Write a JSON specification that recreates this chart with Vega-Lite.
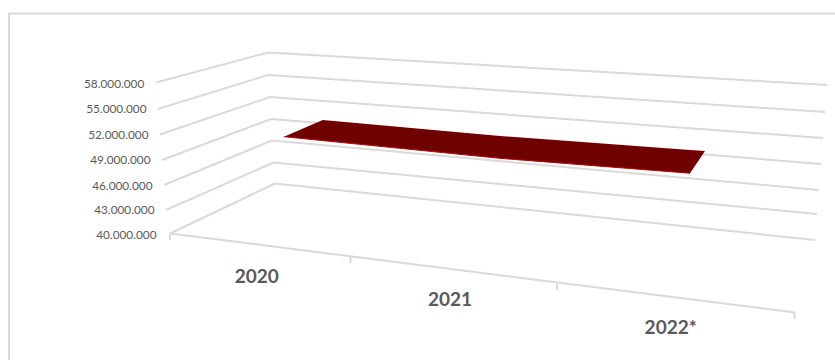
{
  "$schema": "https://vega.github.io/schema/vega-lite/v6.json",
  "width": 835,
  "height": 360,
  "padding": 0,
  "autosize": {"type": "none"},
  "background": "white",
  "config": {"view": {"stroke": null}},
  "datasets": {
    "frame": [
      {"part": "frame", "seq": 0, "pos": -0.805, "level": 24.92},
      {"part": "frame", "seq": 1, "pos": -0.805, "level": 66.22},
      {"part": "frame", "seq": 2, "pos": 3.325, "level": 66.22}
    ],
    "grid": [
      {"part": "58.000.000", "seq": 0, "pos": -0.07, "level": 58.0},
      {"part": "58.000.000", "seq": 1, "pos": 0.49, "level": 61.57},
      {"part": "58.000.000", "seq": 2, "pos": 3.285, "level": 57.7},
      {"part": "55.000.000", "seq": 0, "pos": -0.06, "level": 54.84},
      {"part": "55.000.000", "seq": 1, "pos": 0.49, "level": 58.89},
      {"part": "55.000.000", "seq": 2, "pos": 3.275, "level": 54.48},
      {"part": "52.000.000", "seq": 0, "pos": -0.05, "level": 51.8},
      {"part": "52.000.000", "seq": 1, "pos": 0.5, "level": 56.27},
      {"part": "52.000.000", "seq": 2, "pos": 3.265, "level": 51.38},
      {"part": "49.000.000", "seq": 0, "pos": -0.04, "level": 48.76},
      {"part": "49.000.000", "seq": 1, "pos": 0.505, "level": 53.65},
      {"part": "49.000.000", "seq": 2, "pos": 3.255, "level": 48.28},
      {"part": "46.000.000", "seq": 0, "pos": -0.03, "level": 45.78},
      {"part": "46.000.000", "seq": 1, "pos": 0.51, "level": 51.08},
      {"part": "46.000.000", "seq": 2, "pos": 3.245, "level": 45.18},
      {"part": "43.000.000", "seq": 0, "pos": -0.02, "level": 42.8},
      {"part": "43.000.000", "seq": 1, "pos": 0.5175, "level": 48.46},
      {"part": "43.000.000", "seq": 2, "pos": 3.235, "level": 42.32},
      {"part": "40.000.000", "seq": 0, "pos": 0, "level": 40},
      {"part": "40.000.000", "seq": 1, "pos": 0.525, "level": 45.96},
      {"part": "40.000.000", "seq": 2, "pos": 3.225, "level": 39.23},
      {"part": "floor", "seq": 0, "pos": 0, "level": 40},
      {"part": "floor", "seq": 1, "pos": 3.125, "level": 30.58},
      {"part": "tick0", "seq": 0, "pos": 0, "level": 40},
      {"part": "tick0", "seq": 1, "pos": 0, "level": 39.23},
      {"part": "tick1", "seq": 0, "pos": 0.9025, "level": 37.2},
      {"part": "tick1", "seq": 1, "pos": 0.9025, "level": 36.48},
      {"part": "tick2", "seq": 0, "pos": 1.935, "level": 34.04},
      {"part": "tick2", "seq": 1, "pos": 1.935, "level": 33.33},
      {"part": "tick3", "seq": 0, "pos": 3.1225, "level": 30.58},
      {"part": "tick3", "seq": 1, "pos": 3.1225, "level": 29.81}
    ],
    "ribbon": [
      {"pos": 0.57, "top": 51.54, "bottom": 51.54},
      {"pos": 0.7635, "top": 53.53, "bottom": 51.07},
      {"pos": 1.65, "top": 51.62, "bottom": 48.96},
      {"pos": 2.6, "top": 49.95, "bottom": 47.18},
      {"pos": 2.675, "top": 49.83, "bottom": 49.83}
    ],
    "valueLabels": [
      {"label": "58.000.000", "pos": -0.1285, "level": 57.85},
      {"label": "55.000.000", "pos": -0.1175, "level": 54.84},
      {"label": "52.000.000", "pos": -0.1075, "level": 51.78},
      {"label": "49.000.000", "pos": -0.0975, "level": 48.76},
      {"label": "46.000.000", "pos": -0.0875, "level": 45.7},
      {"label": "43.000.000", "pos": -0.0775, "level": 42.8},
      {"label": "40.000.000", "pos": -0.0675, "level": 39.86}
    ],
    "yearLabels": [
      {"label": "2020", "pos": 0.4335, "level": 34.85},
      {"label": "2021", "pos": 1.4, "level": 32.07},
      {"label": "2022*", "pos": 2.5035, "level": 28.77}
    ]
  },
  "data": {"name": "grid"},
  "encoding": {
    "x": {"field": "pos", "type": "quantitative", "axis": null, "scale": {"domain": [-0.85, 3.325], "nice": false, "zero": false}},
    "y": {"field": "level", "type": "quantitative", "axis": null, "scale": {"domain": [24.92, 67.83], "nice": false, "zero": false}}
  },
  "layer": [
    {
      "data": {"name": "frame"},
      "mark": {"type": "line", "stroke": "#d9d9d9", "strokeWidth": 2},
      "encoding": {"order": {"field": "seq"}}
    },
    {
      "mark": {"type": "line", "stroke": "#d9d9d9", "strokeWidth": 2},
      "encoding": {"detail": {"field": "part"}, "order": {"field": "seq"}}
    },
    {
      "data": {"name": "ribbon"},
      "mark": {"type": "area", "fill": "#6e0000"},
      "encoding": {
        "y": {"field": "top", "type": "quantitative"},
        "y2": {"field": "bottom"}
      }
    },
    {
      "data": {"name": "ribbon"},
      "transform": [{"filter": "datum.pos <= 2.6"}],
      "mark": {"type": "line", "stroke": "#c00000", "strokeWidth": 1},
      "encoding": {"y": {"field": "bottom", "type": "quantitative"}}
    },
    {
      "data": {"name": "valueLabels"},
      "mark": {"type": "text", "font": "Lato", "fontSize": 11.8, "fill": "#595959", "align": "right", "baseline": "middle"},
      "encoding": {"text": {"field": "label"}}
    },
    {
      "data": {"name": "yearLabels"},
      "mark": {"type": "text", "font": "Lato", "fontSize": 19, "fontWeight": "bold", "fill": "#595959", "align": "center", "baseline": "middle"},
      "encoding": {"text": {"field": "label"}}
    }
  ]
}
